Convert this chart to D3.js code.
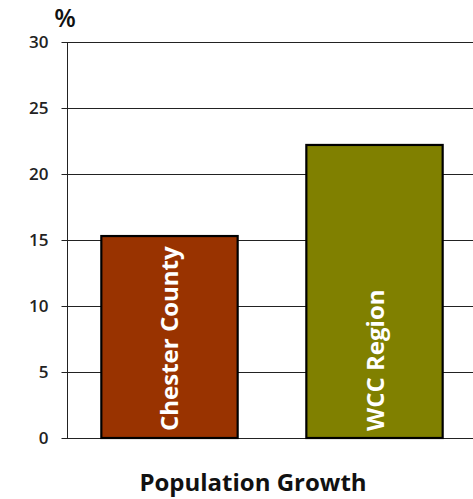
<!DOCTYPE html>
<html>
<head>
<meta charset="utf-8">
<script src="https://cdn.jsdelivr.net/npm/d3@7"></script>
<style>
  html, body { margin: 0; padding: 0; background: #fff; }
  svg { display: block; font-family: "Open Sans", "DejaVu Sans", sans-serif; }
</style>
</head>
<body>
<svg id="chart" width="473" height="499"></svg>
<script>
// Population growth, percent
const categories = ["Chester County", "WCC Region"];
const growth = [15.3, 22.2];
const barColors = ["#993300", "#808000"];
const yTicks = [0, 5, 10, 15, 20, 25, 30];
const title = "Population Growth";
const unitLabel = "%";

const svg = d3.select("#chart");
const margin = { top: 42, left: 67.5, bottom: 61 };
const plotRight = 476.5;
const height = 499;

const y = d3.scaleLinear()
  .domain([0, 30])
  .range([height - margin.bottom, margin.top]);

const x = d3.scaleBand()
  .domain(categories)
  .range([margin.left, plotRight])
  .paddingInner(0.335)
  .paddingOuter(0.165);

// horizontal gridlines with outward tick marks
const yAxis = d3.axisLeft(y)
  .tickValues(yTicks)
  .tickSize(-(plotRight - margin.left))
  .tickPadding(19)
  .tickFormat(d3.format("d"));

const gAxis = svg.append("g")
  .attr("transform", `translate(${margin.left},0)`)
  .call(yAxis);
gAxis.select(".domain").remove();
gAxis.selectAll(".tick line")
  .attr("x1", -6)
  .attr("stroke", "#222")
  .attr("stroke-width", 1);
gAxis.selectAll(".tick text")
  .attr("font-size", 17)
  .attr("font-weight", 600)
  .attr("fill", "#222")
  .attr("font-family", "Open Sans, sans-serif");

// vertical axis line
svg.append("line")
  .attr("x1", margin.left).attr("x2", margin.left)
  .attr("y1", y(30)).attr("y2", y(0))
  .attr("stroke", "#222").attr("stroke-width", 1);

// bars
svg.append("g").selectAll("rect")
  .data(categories)
  .join("rect")
  .attr("x", d => x(d))
  .attr("width", x.bandwidth())
  .attr("y", (d, i) => y(growth[i]))
  .attr("height", (d, i) => y(0) - y(growth[i]))
  .attr("fill", (d, i) => barColors[i])
  .attr("stroke", "#000")
  .attr("stroke-width", 2.2);

// category names written up the inside of each bar
svg.append("g").selectAll("text")
  .data(categories)
  .join("text")
  .attr("transform", d => `translate(${x(d) + x.bandwidth() / 2 + 9},${y(0) - 7}) rotate(-90)`)
  .attr("text-anchor", "start")
  .attr("fill", "#fff")
  .attr("font-weight", "bold")
  .attr("font-size", 24)
  .text(d => d);

// unit label above the axis
svg.append("text")
  .attr("x", 65)
  .attr("y", 27)
  .attr("text-anchor", "middle")
  .attr("font-size", 25)
  .attr("font-weight", 600)
  .attr("fill", "#111")
  .text(unitLabel);

// chart title
svg.append("text")
  .attr("x", 253)
  .attr("y", 491)
  .attr("text-anchor", "middle")
  .attr("font-size", 24)
  .attr("font-weight", "bold")
  .attr("fill", "#111")
  .text(title);
</script>
</body>
</html>
